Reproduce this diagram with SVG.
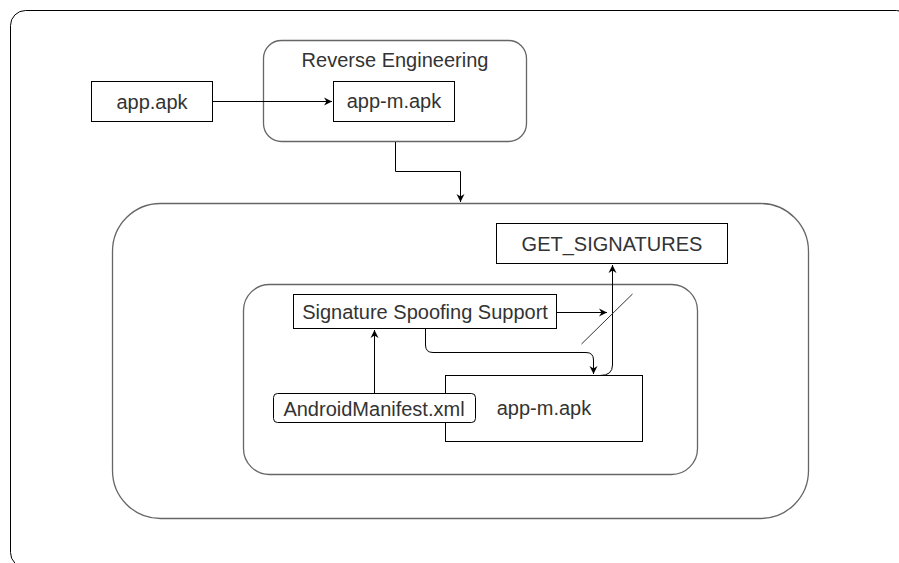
<svg xmlns="http://www.w3.org/2000/svg" width="899" height="563" viewBox="0 0 899 563">
<defs>
<marker id="arr" markerWidth="10" markerHeight="10" refX="8" refY="4.5" orient="auto" markerUnits="userSpaceOnUse">
<path d="M0,0.5 L8,4.5 L0,8.5 L2.5,4.5 Z" fill="#000"/>
</marker>
</defs>
<style>
.box{fill:#fff;stroke:#000;stroke-width:1}
.cont{fill:#fff;stroke:#666;stroke-width:1.3}
.t{font-family:"Liberation Sans",Arial,sans-serif;font-size:20px;fill:#333;text-anchor:middle}
.c{fill:none;stroke:#000;stroke-width:1}
</style>
<rect x="0" y="0" width="899" height="563" fill="#fff"/>
<g id="frame"><rect x="10.5" y="10.5" width="901" height="557" rx="15" fill="#fff" stroke="#000" stroke-width="1"/></g>
<g id="reverse-engineering">
<rect class="cont" x="263.5" y="40.5" width="263" height="101" rx="18"/>
<text class="t" x="395" y="67">Reverse Engineering</text>
</g>
<g id="app-apk">
<rect class="box" x="91.5" y="81.5" width="121" height="40"/>
<text class="t" x="152" y="109">app.apk</text>
</g>
<g id="app-m-apk-top">
<rect class="box" x="333.5" y="81.5" width="121" height="40"/>
<text class="t" x="394" y="108">app-m.apk</text>
</g>
<g id="outer-container"><rect class="cont" x="112.5" y="203.5" width="696" height="315" rx="48"/></g>
<g id="inner-container"><rect class="cont" x="243.5" y="284.5" width="454" height="190" rx="26"/></g>
<g id="get-signatures">
<rect class="box" x="496.5" y="223.5" width="231" height="40"/>
<text class="t" x="612" y="251">GET_SIGNATURES</text>
</g>
<g id="signature-spoofing">
<rect class="box" x="293.5" y="294.5" width="263" height="34"/>
<text class="t" x="425" y="319">Signature Spoofing Support</text>
</g>
<g id="app-m-apk-bottom">
<rect class="box" x="445.5" y="375.5" width="197" height="66"/>
<text class="t" x="544" y="415">app-m.apk</text>
</g>
<g id="android-manifest">
<rect class="box" x="273.5" y="393.5" width="202" height="29" rx="4"/>
<text class="t" x="374" y="416">AndroidManifest.xml</text>
</g>
<g id="connectors">
<path class="c" d="M213 101.5 H332" marker-end="url(#arr)"/>
<path class="c" d="M395.5 142 V171.5 H460.5 V202" marker-end="url(#arr)"/>
<path class="c" d="M374.5 393 V330" marker-end="url(#arr)"/>
<path class="c" d="M557 312.5 H607" marker-end="url(#arr)"/>
<path class="c" d="M425.5 329 V345 Q425.5 352.5 433 352.5 H586 Q593.5 352.5 593.5 360 V374" marker-end="url(#arr)"/>
<path class="c" d="M600 375.5 Q612.5 375.5 612.5 365 V265" marker-end="url(#arr)"/>
<line x1="581.5" y1="344" x2="632.5" y2="294" stroke="#333" stroke-width="1"/>
</g>
</svg>
